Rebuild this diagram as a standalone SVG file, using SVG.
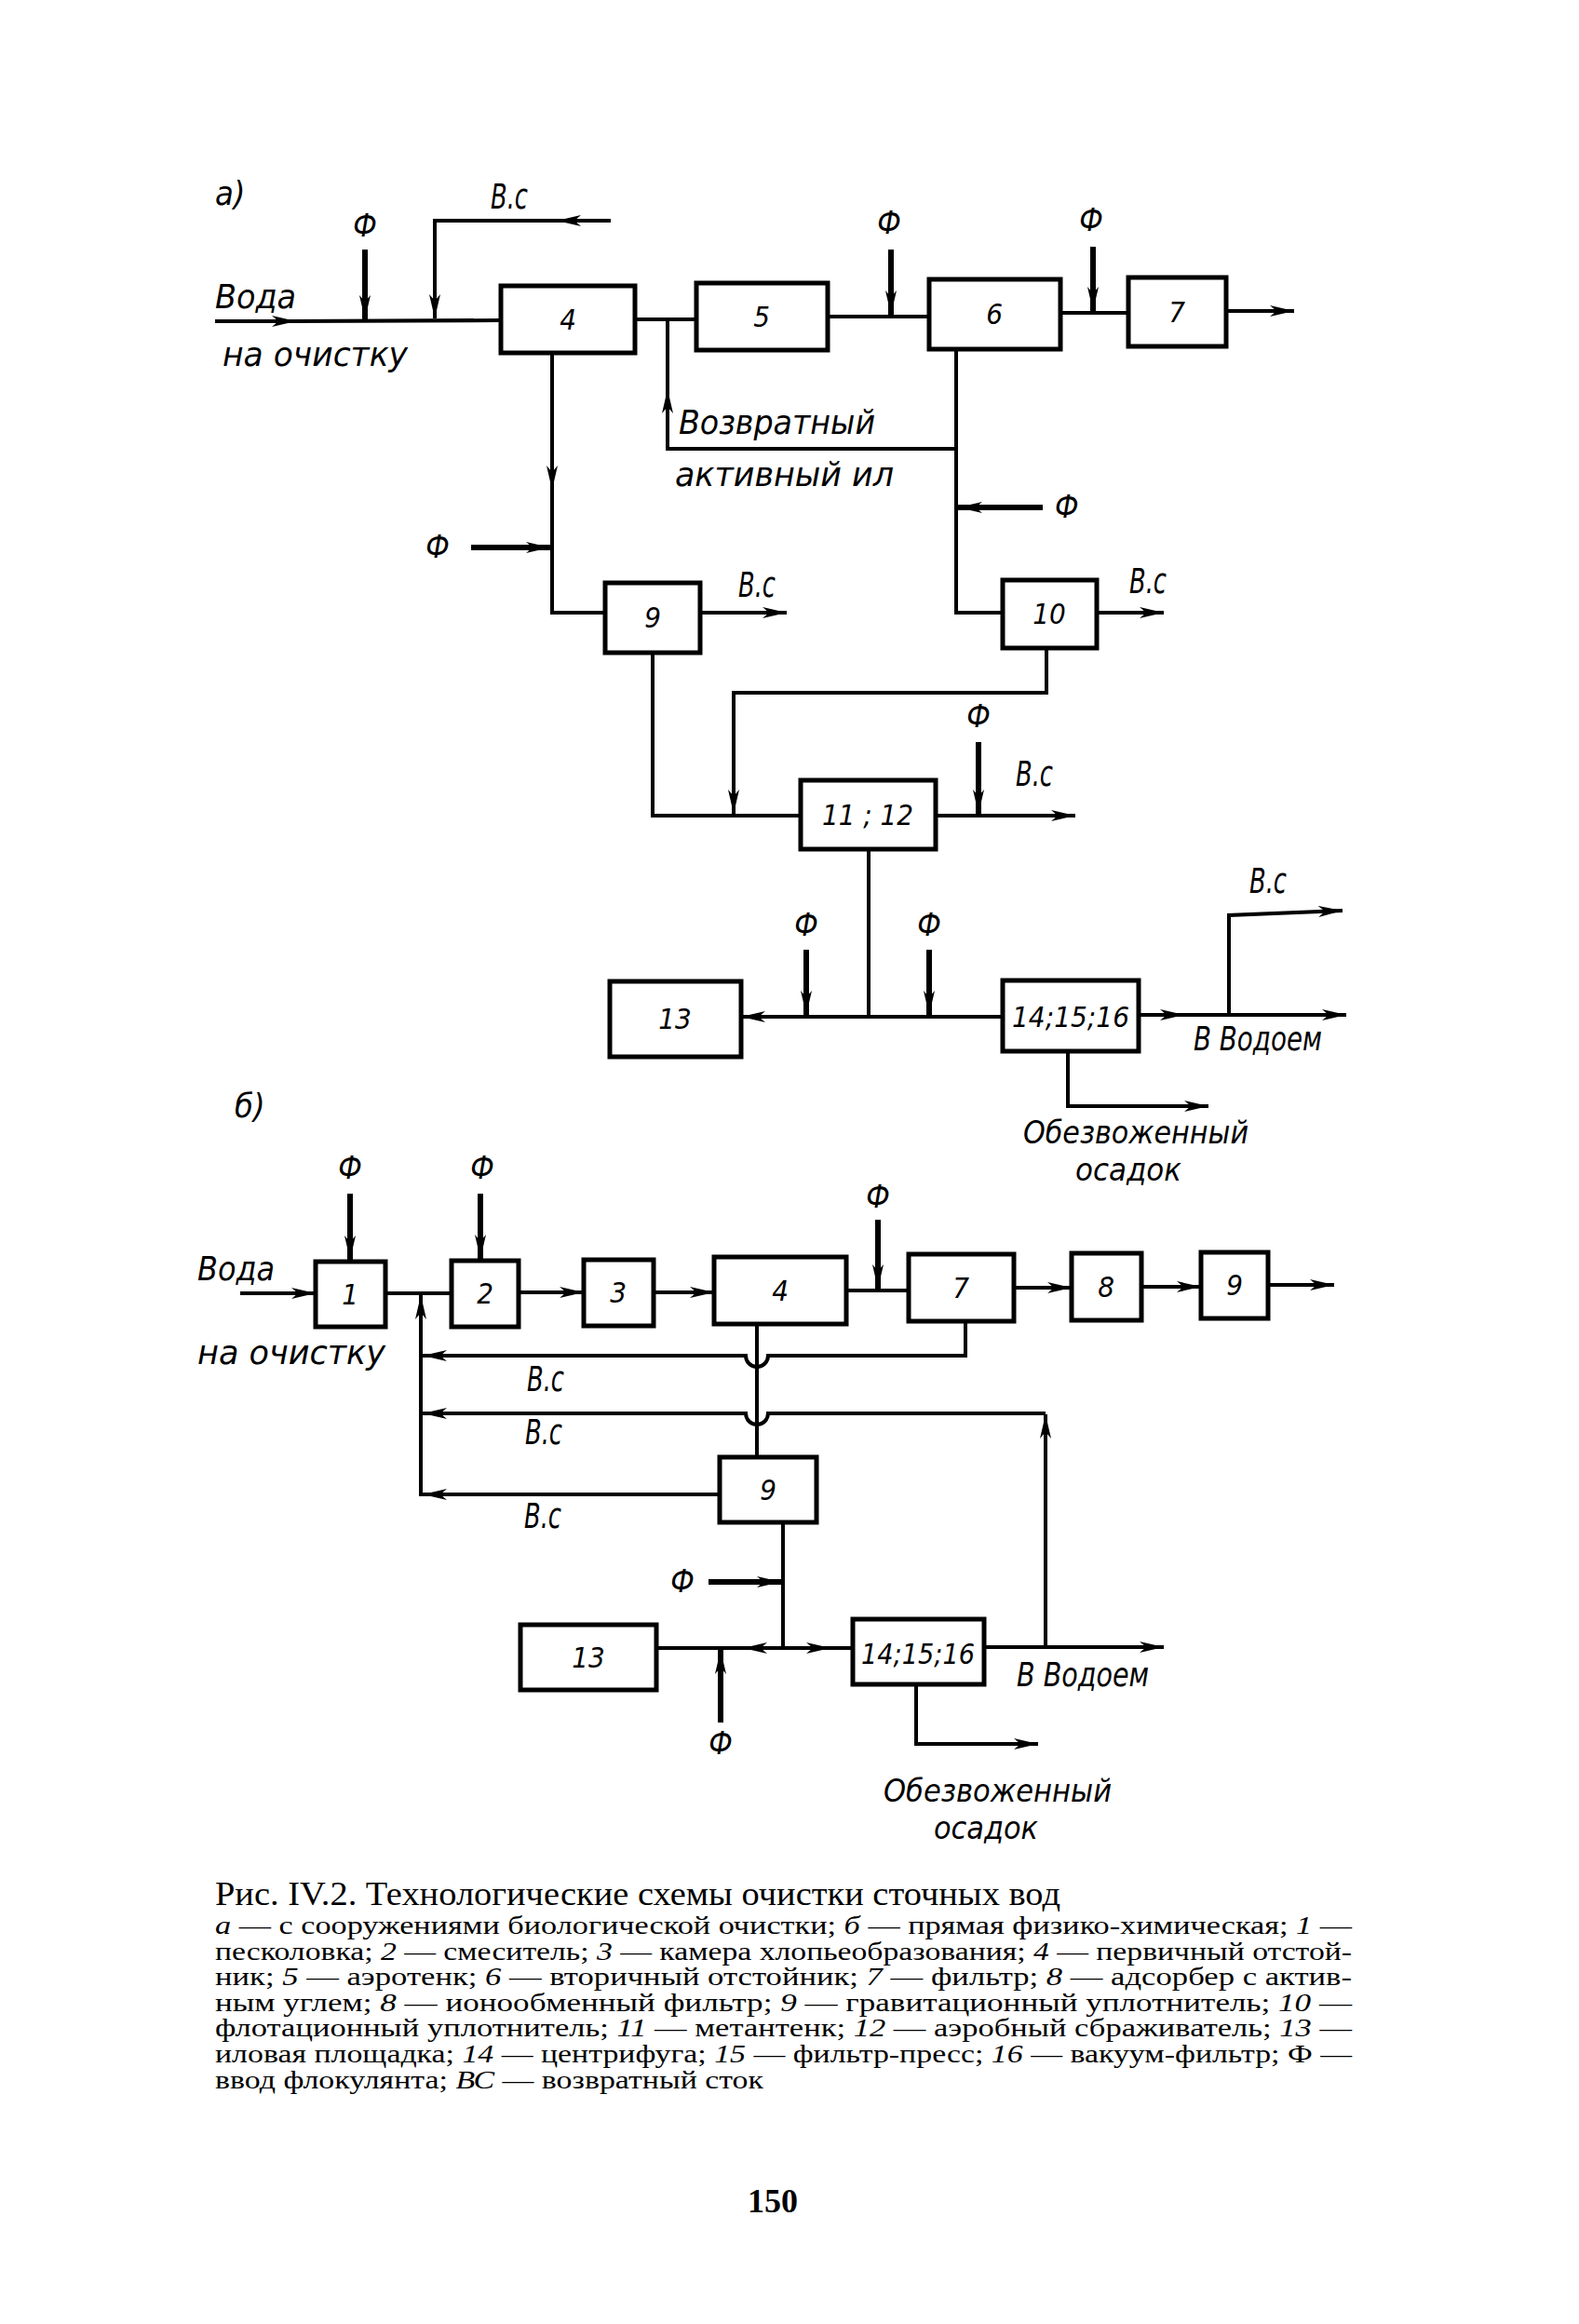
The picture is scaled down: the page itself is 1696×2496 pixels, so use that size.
<svg xmlns="http://www.w3.org/2000/svg" width="1696" height="2496" viewBox="0 0 1696 2496">
<style>
.box{fill:#fff;stroke:#000;stroke-width:5}
.ln{fill:none;stroke:#000;stroke-width:4}
.th{fill:none;stroke:#000;stroke-width:6}
.t{font-family:"Liberation Sans Narrow","DejaVu Sans Condensed","Liberation Sans",sans-serif;font-style:italic;font-size:31px;fill:#000}
.w{font-size:36px}
.s{font-size:33px}
.vc{font-size:38px}
.f{font-size:33px}
.n{text-anchor:middle}
.cap{font-family:"Liberation Serif","DejaVu Serif",serif;fill:#000}
.i{font-style:italic}
</style>
<defs>
<marker id="a" viewBox="0 0 26 12" markerWidth="26" markerHeight="12" refX="26" refY="6" orient="auto" markerUnits="userSpaceOnUse">
<path d="M0,0 L26,6 L0,12 L7,6 Z" fill="#000"/>
</marker>
</defs>
<rect width="1696" height="2496" fill="#fff"/>

<!-- ===== Scheme a ===== -->
<text class="t w" x="231" y="220">а)</text>

<g id="a-box4"><rect class="box" x="538" y="307" width="144" height="72"/><text class="t n" x="610" y="354">4</text></g>
<g id="a-box5"><rect class="box" x="748" y="304" width="141" height="72"/><text class="t n" x="818" y="351">5</text></g>
<g id="a-box6"><rect class="box" x="998" y="300" width="141" height="75"/><text class="t n" x="1068" y="348">6</text></g>
<g id="a-box7"><rect class="box" x="1212" y="298" width="105" height="74"/><text class="t n" x="1264" y="346">7</text></g>
<g id="a-box9"><rect class="box" x="650" y="626" width="102" height="75"/><text class="t n" x="701" y="674">9</text></g>
<g id="a-box10"><rect class="box" x="1077" y="623" width="101" height="73"/><text class="t n" x="1127" y="670">10</text></g>
<g id="a-box11-12"><rect class="box" x="860" y="838" width="145" height="74"/><text class="t n" x="932" y="886">11 ; 12</text></g>
<g id="a-box13"><rect class="box" x="655" y="1054" width="141" height="81"/><text class="t n" x="725" y="1105">13</text></g>
<g id="a-box14-16"><rect class="box" x="1077" y="1053" width="146" height="76"/><text class="t n" x="1150" y="1103" font-size="31" textLength="126" lengthAdjust="spacingAndGlyphs">14;15;16</text></g>

<g id="connectors-a">
  <path class="ln" d="M231,345 L318,345" marker-end="url(#a)"/>
  <path class="ln" d="M314,345 L538,344"/>
  <path class="th" d="M392,268 L392,343" marker-end="url(#a)"/>
  <path class="ln" d="M656,237 L598,237" marker-end="url(#a)"/>
  <path class="ln" d="M602,237 L467,237 L467,342" marker-end="url(#a)"/>
  <path class="ln" d="M682,343 L748,343"/>
  <path class="ln" d="M1027,482 L717,482 L717,418" marker-end="url(#a)"/>
  <path class="ln" d="M717,422 L717,343"/>
  <path class="ln" d="M889,340 L998,340"/>
  <path class="th" d="M957,268 L957,338" marker-end="url(#a)"/>
  <path class="ln" d="M1139,336 L1212,336"/>
  <path class="th" d="M1174,265 L1174,334" marker-end="url(#a)"/>
  <path class="ln" d="M1317,334 L1390,334" marker-end="url(#a)"/>
  <path class="ln" d="M1027,375 L1027,658 L1077,658"/>
  <path class="th" d="M1120,545 L1029,545" marker-end="url(#a)"/>
  <path class="ln" d="M593,379 L593,526" marker-end="url(#a)"/>
  <path class="ln" d="M593,520 L593,658 L650,658"/>
  <path class="th" d="M506,588 L591,588" marker-end="url(#a)"/>
  <path class="ln" d="M752,658 L845,658" marker-end="url(#a)"/>
  <path class="ln" d="M1178,658 L1250,658" marker-end="url(#a)"/>
  <path class="ln" d="M1124,696 L1124,744 L788,744 L788,874" marker-end="url(#a)"/>
  <path class="ln" d="M701,701 L701,876 L860,876"/>
  <path class="ln" d="M1005,876 L1155,876" marker-end="url(#a)"/>
  <path class="th" d="M1051,797 L1051,874" marker-end="url(#a)"/>
  <path class="ln" d="M933,912 L933,1092"/>
  <path class="ln" d="M1077,1092 L796,1092" marker-end="url(#a)"/>
  <path class="th" d="M866,1020 L866,1090" marker-end="url(#a)"/>
  <path class="th" d="M998,1020 L998,1090" marker-end="url(#a)"/>
  <path class="ln" d="M1223,1090 L1272,1090" marker-end="url(#a)"/>
  <path class="ln" d="M1268,1090 L1446,1090" marker-end="url(#a)"/>
  <path class="ln" d="M1320,1090 L1320,983 L1442,978" marker-end="url(#a)"/>
  <path class="ln" d="M1147,1129 L1147,1188 L1298,1188" marker-end="url(#a)"/>
</g>

<g id="labels-a">
  <text class="t vc" x="527" y="224" textLength="40" lengthAdjust="spacingAndGlyphs">В.с</text>
  <text class="t f n" x="392" y="254">Ф</text>
  <text class="t w" x="231" y="331" textLength="87" lengthAdjust="spacingAndGlyphs">Вода</text>
  <text class="t w" x="239" y="393" textLength="199" lengthAdjust="spacingAndGlyphs">на  очистку</text>
  <text class="t w" x="729" y="466" textLength="211" lengthAdjust="spacingAndGlyphs">Возвратный</text>
  <text class="t w" x="725" y="522" textLength="235" lengthAdjust="spacingAndGlyphs">активный  ил</text>
  <text class="t f n" x="955" y="251">Ф</text>
  <text class="t f n" x="1172" y="248">Ф</text>
  <text class="t f" x="1133" y="556">Ф</text>
  <text class="t f n" x="470" y="599">Ф</text>
  <text class="t vc" x="793" y="641" textLength="40" lengthAdjust="spacingAndGlyphs">В.с</text>
  <text class="t vc" x="1213" y="637" textLength="40" lengthAdjust="spacingAndGlyphs">В.с</text>
  <text class="t f n" x="1051" y="781">Ф</text>
  <text class="t vc" x="1091" y="844" textLength="40" lengthAdjust="spacingAndGlyphs">В.с</text>
  <text class="t f n" x="866" y="1005">Ф</text>
  <text class="t f n" x="998" y="1005">Ф</text>
  <text class="t vc" x="1342" y="959" textLength="40" lengthAdjust="spacingAndGlyphs">В.с</text>
  <text class="t w" x="1282" y="1128" textLength="138" lengthAdjust="spacingAndGlyphs">В Водоем</text>
  <text class="t s" x="1099" y="1228" textLength="242" lengthAdjust="spacingAndGlyphs">Обезвоженный</text>
  <text class="t s" x="1155" y="1268" textLength="114" lengthAdjust="spacingAndGlyphs">осадок</text>
</g>

<!-- ===== Scheme b ===== -->
<text class="t w" x="252" y="1200">б)</text>

<g id="b-box1"><rect class="box" x="339" y="1355" width="75" height="70"/><text class="t n" x="376" y="1401">1</text></g>
<g id="b-box2"><rect class="box" x="485" y="1354" width="72" height="71"/><text class="t n" x="521" y="1400">2</text></g>
<g id="b-box3"><rect class="box" x="627" y="1353" width="75" height="71"/><text class="t n" x="664" y="1399">3</text></g>
<g id="b-box4"><rect class="box" x="767" y="1350" width="142" height="72"/><text class="t n" x="838" y="1397">4</text></g>
<g id="b-box7"><rect class="box" x="976" y="1347" width="113" height="72"/><text class="t n" x="1032" y="1394">7</text></g>
<g id="b-box8"><rect class="box" x="1151" y="1346" width="75" height="72"/><text class="t n" x="1188" y="1393">8</text></g>
<g id="b-box9top"><rect class="box" x="1290" y="1345" width="72" height="71"/><text class="t n" x="1326" y="1391">9</text></g>
<g id="b-box9"><rect class="box" x="773" y="1565" width="104" height="70"/><text class="t n" x="825" y="1611">9</text></g>
<g id="b-box13"><rect class="box" x="559" y="1745" width="146" height="70"/><text class="t n" x="632" y="1791">13</text></g>
<g id="b-box14-16"><rect class="box" x="916" y="1739" width="141" height="70"/><text class="t n" x="986" y="1787" font-size="31" textLength="122" lengthAdjust="spacingAndGlyphs">14;15;16</text></g>

<g id="connectors-b">
  <path class="ln" d="M258,1389 L339,1389" marker-end="url(#a)"/>
  <path class="th" d="M376,1282 L376,1353" marker-end="url(#a)"/>
  <path class="th" d="M516,1282 L516,1352" marker-end="url(#a)"/>
  <path class="ln" d="M414,1389 L485,1389"/>
  <path class="ln" d="M557,1388 L627,1388" marker-end="url(#a)"/>
  <path class="ln" d="M702,1388 L767,1388" marker-end="url(#a)"/>
  <path class="ln" d="M909,1386 L976,1386"/>
  <path class="th" d="M943,1310 L943,1384" marker-end="url(#a)"/>
  <path class="ln" d="M1089,1383 L1151,1383" marker-end="url(#a)"/>
  <path class="ln" d="M1226,1382 L1290,1382" marker-end="url(#a)"/>
  <path class="ln" d="M1362,1380 L1433,1380" marker-end="url(#a)"/>
  <path class="ln" d="M452,1607 L452,1391" marker-end="url(#a)"/>
  <path class="ln" d="M1037,1419 L1037,1456 L825,1456 A12,12 0 0 1 801,1456 L454,1456" marker-end="url(#a)"/>
  <path class="ln" d="M1123,1769 L1123,1519" marker-end="url(#a)"/>
  <path class="ln" d="M1123,1518 L825,1518 A12,12 0 0 1 801,1518 L454,1518" marker-end="url(#a)"/>
  <path class="ln" d="M773,1605 L454,1605" marker-end="url(#a)"/>
  <path class="ln" d="M813,1422 L813,1565"/>
  <path class="ln" d="M841,1635 L841,1770"/>
  <path class="th" d="M761,1699 L839,1699" marker-end="url(#a)"/>
  <path class="ln" d="M705,1770 L841,1770"/>
  <path class="ln" d="M841,1770 L798,1770" marker-end="url(#a)"/>
  <path class="ln" d="M841,1770 L892,1770" marker-end="url(#a)"/>
  <path class="ln" d="M888,1770 L916,1770"/>
  <path class="th" d="M774,1850 L774,1772" marker-end="url(#a)"/>
  <path class="ln" d="M1057,1769 L1250,1769" marker-end="url(#a)"/>
  <path class="ln" d="M984,1809 L984,1873 L1115,1873" marker-end="url(#a)"/>
</g>

<g id="labels-b">
  <text class="t f n" x="376" y="1266">Ф</text>
  <text class="t f n" x="518" y="1266">Ф</text>
  <text class="t f n" x="943" y="1297">Ф</text>
  <text class="t w" x="212" y="1375" textLength="83" lengthAdjust="spacingAndGlyphs">Вода</text>
  <text class="t w" x="212" y="1465" textLength="202" lengthAdjust="spacingAndGlyphs">на очистку</text>
  <text class="t vc" x="566" y="1494" textLength="40" lengthAdjust="spacingAndGlyphs">В.с</text>
  <text class="t vc" x="564" y="1551" textLength="40" lengthAdjust="spacingAndGlyphs">В.с</text>
  <text class="t vc" x="563" y="1641" textLength="40" lengthAdjust="spacingAndGlyphs">В.с</text>
  <text class="t f n" x="733" y="1710">Ф</text>
  <text class="t f n" x="774" y="1884">Ф</text>
  <text class="t w" x="1092" y="1811" textLength="142" lengthAdjust="spacingAndGlyphs">В Водоем</text>
  <text class="t s" x="949" y="1935" textLength="245" lengthAdjust="spacingAndGlyphs">Обезвоженный</text>
  <text class="t s" x="1003" y="1975" textLength="112" lengthAdjust="spacingAndGlyphs">осадок</text>
</g>

<!-- ===== Caption ===== -->
<g id="caption">
  <text class="cap" x="231" y="2046" font-size="36" textLength="908" lengthAdjust="spacingAndGlyphs">Рис. IV.2. Технологические схемы очистки сточных вод</text>
  <g font-size="28">
    <text class="cap" x="231" y="2077" textLength="1221" lengthAdjust="spacingAndGlyphs"><tspan class="i">а</tspan> — с сооружениями биологической очистки; <tspan class="i">б</tspan> — прямая физико-химическая; <tspan class="i">1</tspan> —</text>
    <text class="cap" x="231" y="2105" textLength="1221" lengthAdjust="spacingAndGlyphs">песколовка; <tspan class="i">2</tspan> — смеситель; <tspan class="i">3</tspan> — камера хлопьеобразования; <tspan class="i">4</tspan> — первичный отстой-</text>
    <text class="cap" x="231" y="2132" textLength="1221" lengthAdjust="spacingAndGlyphs">ник; <tspan class="i">5</tspan> — аэротенк; <tspan class="i">6</tspan> — вторичный отстойник; <tspan class="i">7</tspan> — фильтр; <tspan class="i">8</tspan> — адсорбер с актив-</text>
    <text class="cap" x="231" y="2160" textLength="1221" lengthAdjust="spacingAndGlyphs">ным углем; <tspan class="i">8</tspan> — ионообменный фильтр; <tspan class="i">9</tspan> — гравитационный уплотнитель; <tspan class="i">10</tspan> —</text>
    <text class="cap" x="231" y="2187" textLength="1221" lengthAdjust="spacingAndGlyphs">флотационный уплотнитель; <tspan class="i">11</tspan> — метантенк; <tspan class="i">12</tspan> — аэробный сбраживатель; <tspan class="i">13</tspan> —</text>
    <text class="cap" x="231" y="2215" textLength="1221" lengthAdjust="spacingAndGlyphs">иловая площадка; <tspan class="i">14</tspan> — центрифуга; <tspan class="i">15</tspan> — фильтр-пресс; <tspan class="i">16</tspan> — вакуум-фильтр; Ф —</text>
    <text class="cap" x="231" y="2243" textLength="589" lengthAdjust="spacingAndGlyphs">ввод флокулянта; <tspan class="i">ВС</tspan> — возвратный сток</text>
  </g>
  <text class="cap" x="830" y="2376" font-size="36" font-weight="bold" text-anchor="middle">150</text>
</g>
</svg>
